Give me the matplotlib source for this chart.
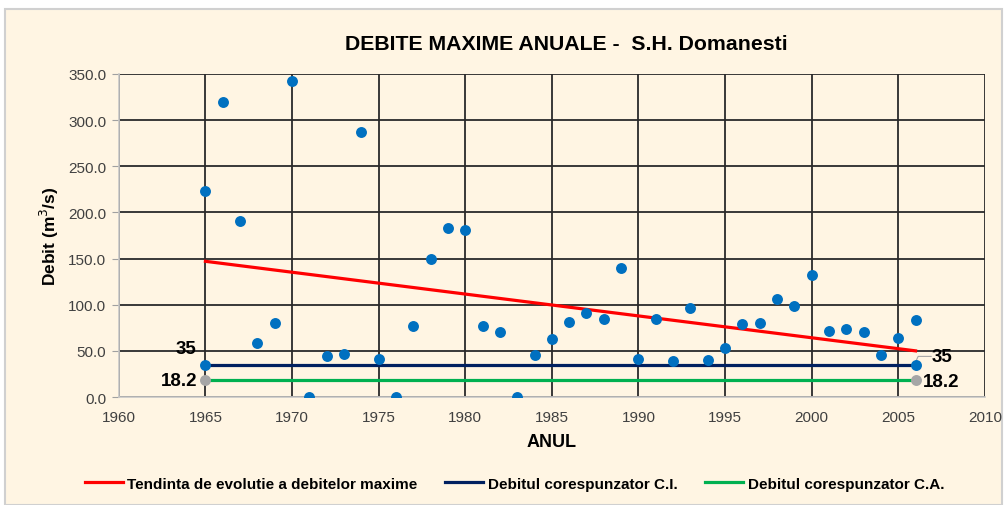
import numpy as np
import matplotlib.pyplot as plt
from matplotlib.patches import Rectangle

plt.rcParams['font.family'] = ['Liberation Sans', 'DejaVu Sans']

# annual maximum discharge
years = list(range(1965, 2007))
debit = [223, 320, 191, 58, 80, 342, 0, 44, 47, 287, 41, 0, 77, 150, 183, 181,
         77, 70, 0, 45, 63, 81, 91, 85, 140, 41, 84, 39, 96, 40, 53, 79, 80,
         106, 99, 132, 71, 74, 70, 45, 64, 83]

q_ci = 35.0     # Debitul corespunzator C.I.
q_ca = 18.2     # Debitul corespunzator C.A.
trend_ends = [147, 50]  # trend line values at 1965 and 2006

bg = '#FFF5E3'
fig = plt.figure(figsize=(10.07, 5.06), dpi=100)
fig.patch.set_facecolor('white')
fig.patches.append(Rectangle((0.005, 0.0), 0.99, 0.98, transform=fig.transFigure,
                             facecolor=bg, edgecolor='#d0d0d0', linewidth=1.5, zorder=-1))

ax = fig.add_axes([0.118, 0.2134, 0.86, 0.6386])
ax.set_facecolor(bg)

x_end = [years[0], years[-1]]
ax.plot(x_end, trend_ends, color='#FF0000', lw=2.3, zorder=3,
        label='Tendinta de evolutie a debitelor maxime')
ax.plot(x_end, [q_ci, q_ci], color='#002060', lw=2.3, zorder=3,
        label='Debitul corespunzator C.I.')
ax.plot(x_end, [q_ca, q_ca], color='#00B050', lw=2.3, zorder=3,
        label='Debitul corespunzator C.A.')
ax.scatter(years, debit, s=62, color='#0070C0', zorder=4, linewidths=0)
ax.scatter(x_end, [q_ci, q_ci], s=62, color='#0070C0', zorder=4, linewidths=0)
ax.scatter(x_end, [q_ca, q_ca], s=62, color='#A6A6A6', zorder=4, linewidths=0)

# value labels at both ends
ax.text(years[0] - 0.55, q_ci + 8, '35', ha='right', va='bottom', fontsize=13.5, fontweight='bold')
ax.text(years[0] - 0.45, q_ca, '18.2', ha='right', va='center', fontsize=13.5, fontweight='bold')
ax.plot([years[-1], years[-1] + 0.15, years[-1] + 0.9], [q_ci + 3, q_ci + 9, q_ci + 9],
        color='#A6A6A6', lw=0.8, zorder=3)
ax.text(years[-1] + 0.95, q_ci + 9, '35', ha='left', va='center', fontsize=13.5, fontweight='bold')
ax.text(years[-1] + 0.4, q_ca - 1, '18.2', ha='left', va='center', fontsize=13.5, fontweight='bold')

ax.set_xlim(1960, 2010)
ax.set_ylim(0, 350)
ax.set_xticks(range(1960, 2011, 5))
ax.set_yticks(range(0, 351, 50))
ax.set_yticklabels([f'{v:.1f}' for v in range(0, 351, 50)])
ax.grid(True, color='#2a2a2a', lw=1.3, zorder=1)
ax.set_axisbelow(True)
for s in ['top', 'right']:
    ax.spines[s].set_visible(False)
for s in ['left', 'bottom']:
    ax.spines[s].set_color('#c8c8c8')
    ax.spines[s].set_linewidth(1.2)
ax.tick_params(axis='y', length=5, color='#a0a0a0', labelsize=11, labelcolor='#404040', pad=4)
ax.tick_params(axis='x', length=0, pad=9, labelsize=11, labelcolor='#404040')

ax.set_xlabel('ANUL', fontsize=13, fontweight='bold', labelpad=7)
ax.set_ylabel('Debit (m$^3$/s)', fontsize=12.5, fontweight='bold', labelpad=5)
fig.text(0.562, 0.913, 'DEBITE MAXIME ANUALE -  S.H. Domanesti', ha='center', va='center',
         fontsize=15.3, fontweight='bold')

fig.legend(loc='center', bbox_to_anchor=(0.511, 0.042), ncol=3, frameon=False,
           prop={'weight': 'bold', 'size': 11}, handlelength=2.5, handletextpad=0.3,
           columnspacing=1.8)

fig.savefig('out.png', dpi=100, facecolor=fig.get_facecolor())
